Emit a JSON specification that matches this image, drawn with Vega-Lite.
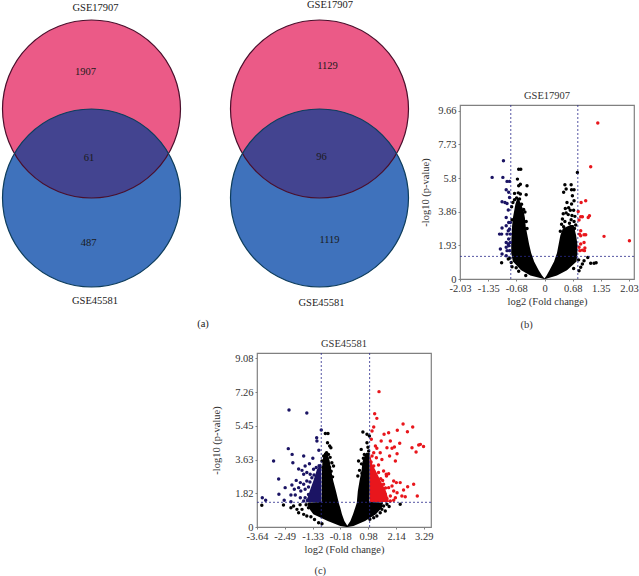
{
"$schema":"https://vega.github.io/schema/vega-lite/v6.json",
"padding":0,"autosize":{"type":"pad"},"background":"white",
"config":{"view":{"stroke":"#808080","strokeWidth":1.2},"font":"Liberation Serif","title":{"font":"Liberation Serif","fontSize":10.5,"fontWeight":"normal","color":"#333333","offset":3},
"axis":{"grid":false,"labelFont":"Liberation Serif","titleFont":"Liberation Serif","labelFontSize":10.5,"titleFontSize":10.5,"titleFontWeight":"normal","labelColor":"#333333","titleColor":"#333333","domain":false,"tickColor":"#808080","tickSize":2,"labelPadding":2,"labelFlush":false,"tickCount":12,"labelOverlap":false,"format":".2~f","labelExpr":"replace(datum.label,'−','-')","titlePadding":3}},
"datasets":{
"circles":[{"x":90.5,"y":109,"set":"GSE17907"},{"x":318.5,"y":109,"set":"GSE17907"},{"x":90.5,"y":198,"set":"GSE45581"},{"x":318.5,"y":198,"set":"GSE45581"}],
"lens":[
{"d":"a","x":13.4,"u":153.5,"l":153.5},{"d":"a","x":14.5,"u":151.7,"l":155.3},{"d":"a","x":16.5,"u":148.6,"l":158.4},{"d":"a","x":20.5,"u":143,"l":164},{"d":"a","x":25.5,"u":137.2,"l":169.8},{"d":"a","x":30.5,"u":132.3,"l":174.7},{"d":"a","x":40.5,"u":124.4,"l":182.6},{"d":"a","x":50.5,"u":118.5,"l":188.5},{"d":"a","x":60.5,"u":114.2,"l":192.8},{"d":"a","x":70.5,"u":111.3,"l":195.7},{"d":"a","x":80.5,"u":109.6,"l":197.4},{"d":"a","x":90.5,"u":109,"l":198},{"d":"a","x":100.5,"u":109.6,"l":197.4},{"d":"a","x":110.5,"u":111.3,"l":195.7},{"d":"a","x":120.5,"u":114.2,"l":192.8},{"d":"a","x":130.5,"u":118.5,"l":188.5},{"d":"a","x":140.5,"u":124.4,"l":182.6},{"d":"a","x":150.5,"u":132.3,"l":174.7},{"d":"a","x":155.5,"u":137.2,"l":169.8},{"d":"a","x":160.5,"u":143,"l":164},{"d":"a","x":164.5,"u":148.6,"l":158.4},{"d":"a","x":166.5,"u":151.7,"l":155.3},{"d":"a","x":167.6,"u":153.5,"l":153.5},
{"d":"b","x":241.4,"u":153.5,"l":153.5},{"d":"b","x":242.5,"u":151.7,"l":155.3},{"d":"b","x":244.5,"u":148.6,"l":158.4},{"d":"b","x":248.5,"u":143,"l":164},{"d":"b","x":253.5,"u":137.2,"l":169.8},{"d":"b","x":258.5,"u":132.3,"l":174.7},{"d":"b","x":268.5,"u":124.4,"l":182.6},{"d":"b","x":278.5,"u":118.5,"l":188.5},{"d":"b","x":288.5,"u":114.2,"l":192.8},{"d":"b","x":298.5,"u":111.3,"l":195.7},{"d":"b","x":308.5,"u":109.6,"l":197.4},{"d":"b","x":318.5,"u":109,"l":198},{"d":"b","x":328.5,"u":109.6,"l":197.4},{"d":"b","x":338.5,"u":111.3,"l":195.7},{"d":"b","x":348.5,"u":114.2,"l":192.8},{"d":"b","x":358.5,"u":118.5,"l":188.5},{"d":"b","x":368.5,"u":124.4,"l":182.6},{"d":"b","x":378.5,"u":132.3,"l":174.7},{"d":"b","x":383.5,"u":137.2,"l":169.8},{"d":"b","x":388.5,"u":143,"l":164},{"d":"b","x":392.5,"u":148.6,"l":158.4},{"d":"b","x":394.5,"u":151.7,"l":155.3},{"d":"b","x":395.6,"u":153.5,"l":153.5}],
"vennText":[{"x":94.5,"y":7.5,"t":"GSE17907"},{"x":329,"y":4.5,"t":"GSE17907"},{"x":94,"y":300,"t":"GSE45581"},{"x":320.5,"y":302,"t":"GSE45581"},{"x":84.5,"y":71.5,"t":"1907"},{"x":88,"y":157.5,"t":"61"},{"x":87.5,"y":242,"t":"487"},{"x":326.5,"y":65.5,"t":"1129"},{"x":320.5,"y":156.5,"t":"96"},{"x":328.5,"y":239,"t":"1119"},{"x":202,"y":323.5,"t":"(a)"}],
"bCore":[
{"p":"L","g":"ns","y":0,"x":-0.01,"x2":0.01},{"p":"L","g":"ns","y":0.2,"x":-0.34,"x2":-0.06},{"p":"L","g":"ns","y":0.5,"x":-0.56,"x2":-0.14},{"p":"L","g":"ns","y":1,"x":-0.76,"x2":-0.25},{"p":"L","g":"ns","y":1.5,"x":-0.8,"x2":-0.32},{"p":"L","g":"ns","y":2,"x":-0.8,"x2":-0.37},{"p":"L","g":"ns","y":2.5,"x":-0.79,"x2":-0.41},{"p":"L","g":"ns","y":3,"x":-0.78,"x2":-0.45},{"p":"L","g":"ns","y":3.5,"x":-0.76,"x2":-0.47},{"p":"L","g":"ns","y":3.9,"x":-0.73,"x2":-0.5},{"p":"L","g":"ns","y":4.3,"x":-0.7,"x2":-0.56},{"p":"L","g":"ns","y":4.6,"x":-0.66,"x2":-0.62},
{"p":"R","g":"ns","y":0,"x":-0.01,"x2":0.02},{"p":"R","g":"ns","y":0.2,"x":0.05,"x2":0.3},{"p":"R","g":"ns","y":0.5,"x":0.12,"x2":0.54},{"p":"R","g":"ns","y":1,"x":0.23,"x2":0.77},{"p":"R","g":"ns","y":1.5,"x":0.3,"x2":0.79},{"p":"R","g":"ns","y":2,"x":0.34,"x2":0.79},{"p":"R","g":"ns","y":2.5,"x":0.38,"x2":0.76},{"p":"R","g":"ns","y":2.9,"x":0.44,"x2":0.72},{"p":"R","g":"ns","y":3.1,"x":0.62,"x2":0.7}],
"bPts":[
{"g":"down","x":-0.986,"y":6.79},{"g":"down","x":-1.258,"y":5.84},{"g":"down","x":-1,"y":5.84},{"g":"down","x":-0.9,"y":5.61},{"g":"down","x":-0.84,"y":5.61},{"g":"down","x":-0.92,"y":5.13},{"g":"down","x":-0.86,"y":4.98},{"g":"down","x":-1.02,"y":4.44},{"g":"down","x":-0.95,"y":4.4},{"g":"down","x":-0.9,"y":4.34},{"g":"down","x":-0.84,"y":4.69},{"g":"down","x":-0.87,"y":3.96},{"g":"down","x":-0.92,"y":3.54},{"g":"down","x":-0.86,"y":3.25},{"g":"down","x":-0.82,"y":3.25},{"g":"down","x":-1.02,"y":2.93},{"g":"down","x":-1.08,"y":2.58},{"g":"down","x":-1.03,"y":2.58},{"g":"down","x":-0.92,"y":3.06},{"g":"down","x":-0.87,"y":2.77},{"g":"down","x":-0.84,"y":2.87},{"g":"down","x":-0.9,"y":2.58},{"g":"down","x":-0.82,"y":2.58},{"g":"down","x":-0.86,"y":2.3},{"g":"down","x":-0.92,"y":2.1},{"g":"down","x":-0.87,"y":2.01},{"g":"down","x":-0.82,"y":2.1},{"g":"down","x":-0.92,"y":1.82},{"g":"down","x":-0.86,"y":1.91},{"g":"down","x":-1.06,"y":1.72},{"g":"down","x":-1.02,"y":1.44},{"g":"down","x":-0.9,"y":1.63},{"g":"down","x":-0.84,"y":1.63},{"g":"down","x":-0.92,"y":1.34},
{"g":"up","x":1.28,"y":8.96},{"g":"up","x":1.11,"y":6.45},{"g":"up","x":0.99,"y":4.5},{"g":"up","x":0.88,"y":4.4},{"g":"up","x":0.81,"y":3.88},{"g":"up","x":1.08,"y":3.64},{"g":"up","x":1.05,"y":3.54},{"g":"up","x":0.87,"y":3.58},{"g":"up","x":0.91,"y":3.58},{"g":"up","x":0.83,"y":3.39},{"g":"up","x":0.87,"y":2.77},{"g":"up","x":0.84,"y":2.58},{"g":"up","x":0.95,"y":2.54},{"g":"up","x":0.99,"y":2.54},{"g":"up","x":0.87,"y":2.49},{"g":"up","x":1.43,"y":2.45},{"g":"up","x":2.04,"y":2.2},{"g":"up","x":0.95,"y":2.1},{"g":"up","x":0.87,"y":2.01},{"g":"up","x":0.97,"y":1.78},{"g":"up","x":0.91,"y":1.66},{"g":"up","x":0.85,"y":1.63},{"g":"up","x":0.96,"y":1.63},{"g":"up","x":0.83,"y":1.82},
{"g":"ns","x":-0.62,"y":6.31},{"g":"ns","x":-0.57,"y":6.31},{"g":"ns","x":0.79,"y":6.12},{"g":"ns","x":-0.65,"y":5.74},{"g":"ns","x":-0.58,"y":5.45},{"g":"ns","x":-0.62,"y":5.36},{"g":"ns","x":-0.42,"y":5.36},{"g":"ns","x":-0.44,"y":4.84},{"g":"ns","x":-0.72,"y":4.92},{"g":"ns","x":-0.58,"y":4.88},{"g":"ns","x":-0.76,"y":4.4},{"g":"ns","x":-0.72,"y":4.55},{"g":"ns","x":-0.67,"y":4.65},{"g":"ns","x":-0.6,"y":4.6},{"g":"ns","x":-0.55,"y":4.3},{"g":"ns","x":-0.5,"y":4.0},{"g":"ns","x":-0.47,"y":3.85},{"g":"ns","x":-0.78,"y":3.4},{"g":"ns","x":-0.44,"y":3.3},{"g":"ns","x":-0.42,"y":2.9},{"g":"ns","x":-0.79,"y":4.15},{"g":"ns","x":-0.63,"y":4.95},
{"g":"ns","x":0.49,"y":5.42},{"g":"ns","x":0.64,"y":5.42},{"g":"ns","x":0.52,"y":5.17},{"g":"ns","x":0.65,"y":5.13},{"g":"ns","x":0.71,"y":5.13},{"g":"ns","x":0.67,"y":4.78},{"g":"ns","x":0.71,"y":4.5},{"g":"ns","x":0.46,"y":4.98},{"g":"ns","x":0.54,"y":4.4},{"g":"ns","x":0.65,"y":4.31},{"g":"ns","x":0.5,"y":4.05},{"g":"ns","x":0.58,"y":4.1},{"g":"ns","x":0.62,"y":3.95},{"g":"ns","x":0.7,"y":3.95},{"g":"ns","x":0.45,"y":3.75},{"g":"ns","x":0.52,"y":3.8},{"g":"ns","x":0.57,"y":3.7},{"g":"ns","x":0.66,"y":3.65},{"g":"ns","x":0.73,"y":3.6},{"g":"ns","x":0.43,"y":3.45},{"g":"ns","x":0.64,"y":3.4},{"g":"ns","x":0.71,"y":3.3},{"g":"ns","x":0.75,"y":3.1},{"g":"ns","x":0.41,"y":3.15},{"g":"ns","x":0.46,"y":3.0},{"g":"ns","x":0.72,"y":2.9},{"g":"ns","x":0.38,"y":2.75},{"g":"ns","x":0.49,"y":3.3},{"g":"ns","x":0.6,"y":3.2},
{"g":"ns","x":-1.03,"y":0.94},{"g":"ns","x":-0.87,"y":1.15},{"g":"ns","x":-0.83,"y":1.2},{"g":"ns","x":-0.8,"y":0.95},{"g":"ns","x":-0.78,"y":0.7},{"g":"ns","x":0.91,"y":0.86},{"g":"ns","x":0.87,"y":0.67},{"g":"ns","x":1.04,"y":1.24},{"g":"ns","x":1.11,"y":0.9},{"g":"ns","x":1.19,"y":0.9},{"g":"ns","x":1.24,"y":0.94},{"g":"ns","x":0.95,"y":1.05},{"g":"ns","x":0.83,"y":0.48},{"g":"ns","x":0.82,"y":1.1},{"g":"ns","x":0.7,"y":0.6},{"g":"ns","x":-0.62,"y":0.45},{"g":"ns","x":-0.68,"y":0.65},{"g":"ns","x":-0.45,"y":0.2}],
"bRuleX":[{"v":-0.81},{"v":0.8}],"bRuleY":[{"v":1.3}],
"cCore":[
{"p":"L","g":"ns","y":0,"x":0.08,"x2":0.12},{"p":"L","g":"ns","y":0.05,"x":-0.18,"x2":0.12},{"p":"L","g":"ns","y":0.32,"x":-0.7,"x2":-0.01},{"p":"L","g":"ns","y":0.68,"x":-1.3,"x2":-0.11},{"p":"L","g":"ns","y":1.04,"x":-1.5,"x2":-0.18},{"p":"L","g":"ns","y":1.32,"x":-1.55,"x2":-0.25},{"p":"L","g":"ns","y":1.34,"x":-0.96,"x2":-0.25},{"p":"L","g":"ns","y":1.94,"x":-0.95,"x2":-0.36},{"p":"L","g":"ns","y":2.48,"x":-0.95,"x2":-0.47},{"p":"L","g":"ns","y":3.02,"x":-0.94,"x2":-0.55},{"p":"L","g":"ns","y":3.55,"x":-0.92,"x2":-0.62},{"p":"L","g":"ns","y":4,"x":-0.85,"x2":-0.72},
{"p":"R","g":"ns","y":0,"x":0.08,"x2":0.12},{"p":"R","g":"ns","y":0.05,"x":0.1,"x2":0.37},{"p":"R","g":"ns","y":0.32,"x":0.24,"x2":0.85},{"p":"R","g":"ns","y":0.68,"x":0.35,"x2":1.3},{"p":"R","g":"ns","y":1.04,"x":0.44,"x2":1.55},{"p":"R","g":"ns","y":1.32,"x":0.51,"x2":1.6},{"p":"R","g":"ns","y":1.34,"x":0.51,"x2":1.03},{"p":"R","g":"ns","y":1.94,"x":0.55,"x2":1.04},{"p":"R","g":"ns","y":2.48,"x":0.62,"x2":1.04},{"p":"R","g":"ns","y":3.02,"x":0.7,"x2":1.04},{"p":"R","g":"ns","y":3.55,"x":0.75,"x2":1.04},{"p":"R","g":"ns","y":4,"x":0.9,"x2":1.04},
{"p":"U","g":"up","y":1.34,"x":1.05,"x2":1.85},{"p":"U","g":"up","y":1.94,"x":1.05,"x2":1.72},{"p":"U","g":"up","y":2.48,"x":1.05,"x2":1.5},{"p":"U","g":"up","y":3.02,"x":1.05,"x2":1.3},{"p":"U","g":"up","y":3.38,"x":1.05,"x2":1.15},{"p":"U","g":"up","y":3.8,"x":1.05,"x2":1.08},
{"p":"D","g":"down","y":1.34,"x":-1.6,"x2":-0.97},{"p":"D","g":"down","y":1.94,"x":-1.45,"x2":-0.97},{"p":"D","g":"down","y":2.48,"x":-1.3,"x2":-0.97},{"p":"D","g":"down","y":3.1,"x":-1.15,"x2":-0.97},{"p":"D","g":"down","y":3.4,"x":-1,"x2":-0.97}],
"cPts":[
{"g":"down","x":-2.31,"y":6.3},{"g":"down","x":-1.57,"y":6.14},{"g":"down","x":-0.97,"y":5.22},{"g":"down","x":-1.16,"y":4.81},{"g":"down","x":-1.15,"y":4.63},{"g":"down","x":-2.34,"y":4.22},{"g":"down","x":-1.07,"y":4.13},{"g":"down","x":-2.18,"y":3.91},{"g":"down","x":-2.95,"y":3.55},{"g":"down","x":-1.7,"y":3.82},{"g":"down","x":-2.15,"y":3.46},{"g":"down","x":-1.32,"y":3.7},{"g":"down","x":-1.46,"y":3.41},{"g":"down","x":-1.64,"y":3.29},{"g":"down","x":-1.91,"y":3.12},{"g":"down","x":-1.77,"y":3.05},{"g":"down","x":-1.57,"y":2.93},{"g":"down","x":-2.74,"y":2.59},{"g":"down","x":-1.7,"y":2.84},{"g":"down","x":-1.43,"y":2.84},{"g":"down","x":-2.01,"y":2.51},{"g":"down","x":-1.84,"y":2.39},{"g":"down","x":-1.57,"y":2.48},{"g":"down","x":-1.29,"y":3.11},{"g":"down","x":-2.47,"y":2.12},{"g":"down","x":-2.19,"y":2.26},{"g":"down","x":-2.09,"y":2.03},{"g":"down","x":-1.91,"y":2.12},{"g":"down","x":-1.7,"y":2.3},{"g":"down","x":-2.73,"y":1.76},{"g":"down","x":-2.23,"y":1.72},{"g":"down","x":-2.05,"y":1.72},{"g":"down","x":-1.82,"y":1.94},{"g":"down","x":-1.64,"y":2.03},{"g":"down","x":-1.5,"y":2.15},{"g":"down","x":-2.51,"y":1.44},{"g":"down","x":-2.23,"y":1.36},{"g":"down","x":-3.42,"y":1.58},{"g":"down","x":-3.28,"y":1.44},{"g":"down","x":-1.84,"y":1.58},{"g":"down","x":-1.64,"y":1.58},{"g":"down","x":-1.7,"y":1.4},{"g":"down","x":-1.54,"y":1.44},{"g":"down","x":-1.5,"y":1.75},{"g":"down","x":-1.44,"y":2.42},{"g":"down","x":-1.36,"y":2.65},{"g":"down","x":-1.27,"y":2.8},{"g":"down","x":-1.18,"y":3.2},{"g":"down","x":-1.06,"y":3.3},
{"g":"up","x":1.43,"y":7.29},{"g":"up","x":1.25,"y":6.1},{"g":"up","x":1.34,"y":5.85},{"g":"up","x":1.21,"y":5.39},{"g":"up","x":1.14,"y":5.17},{"g":"up","x":2.43,"y":5.55},{"g":"up","x":2.83,"y":5.39},{"g":"up","x":2.61,"y":5.13},{"g":"up","x":2.19,"y":5.21},{"g":"up","x":1.83,"y":5.08},{"g":"up","x":1.64,"y":4.99},{"g":"up","x":1.11,"y":4.72},{"g":"up","x":1.52,"y":4.63},{"g":"up","x":1.9,"y":4.63},{"g":"up","x":2.29,"y":4.51},{"g":"up","x":3.08,"y":4.42},{"g":"up","x":3.15,"y":4.45},{"g":"up","x":3.28,"y":4.34},{"g":"up","x":2.8,"y":4.27},{"g":"up","x":2.97,"y":4.04},{"g":"up","x":1.28,"y":4.36},{"g":"up","x":1.34,"y":4.24},{"g":"up","x":1.21,"y":4},{"g":"up","x":1.76,"y":4.27},{"g":"up","x":1.97,"y":4.24},{"g":"up","x":2.07,"y":4.31},{"g":"up","x":1.48,"y":4},{"g":"up","x":1.87,"y":3.82},{"g":"up","x":2.18,"y":3.95},{"g":"up","x":1.55,"y":3.64},{"g":"up","x":1.32,"y":3.73},{"g":"up","x":1.14,"y":3.82},{"g":"up","x":2.11,"y":3.55},{"g":"up","x":1.21,"y":3.29},{"g":"up","x":1.41,"y":3.34},{"g":"up","x":1.73,"y":2.84},{"g":"up","x":1.83,"y":2.87},{"g":"up","x":1.41,"y":2.93},{"g":"up","x":1.62,"y":3.02},{"g":"up","x":1.1,"y":3.5},{"g":"up","x":1.16,"y":3.1},{"g":"up","x":2.04,"y":2.48},{"g":"up","x":2.15,"y":2.39},{"g":"up","x":2.31,"y":2.39},{"g":"up","x":2.87,"y":2.3},{"g":"up","x":2.62,"y":2.17},{"g":"up","x":2.45,"y":1.99},{"g":"up","x":1.97,"y":2.21},{"g":"up","x":1.83,"y":2.12},{"g":"up","x":2.04,"y":1.94},{"g":"up","x":2.18,"y":1.85},{"g":"up","x":1.69,"y":1.76},{"g":"up","x":1.9,"y":1.67},{"g":"up","x":2.11,"y":1.58},{"g":"up","x":2.38,"y":1.67},{"g":"up","x":2.52,"y":1.63},{"g":"up","x":3.02,"y":1.67},{"g":"up","x":1.9,"y":1.4},{"g":"up","x":2.04,"y":1.44},{"g":"up","x":1.76,"y":1.54},{"g":"up","x":1.62,"y":2.3},{"g":"up","x":1.7,"y":2.1},{"g":"up","x":1.5,"y":2.6},{"g":"up","x":1.58,"y":2.5},{"g":"up","x":1.68,"y":1.45},{"g":"up","x":1.74,"y":2.75},{"g":"up","x":1.3,"y":2.75},
{"g":"ns","x":-3.44,"y":1.17},{"g":"ns","x":-2.54,"y":1.18},{"g":"ns","x":-2.23,"y":1.04},{"g":"ns","x":-1.98,"y":0.95},{"g":"ns","x":-1.91,"y":0.77},{"g":"ns","x":-1.7,"y":0.68},{"g":"ns","x":-1.57,"y":0.59},{"g":"ns","x":-2.12,"y":1.13},{"g":"ns","x":-1.77,"y":0.95},{"g":"ns","x":-1.5,"y":1.04},{"g":"ns","x":-1.08,"y":0.23},{"g":"ns","x":-0.94,"y":0.18},{"g":"ns","x":-1.4,"y":0.55},{"g":"ns","x":-1.25,"y":0.4},{"g":"ns","x":-1.6,"y":1.2},{"g":"ns","x":-1.85,"y":1.2},
{"g":"ns","x":-0.8,"y":5.03},{"g":"ns","x":-0.69,"y":5.03},{"g":"ns","x":-0.71,"y":4.54},{"g":"ns","x":-0.62,"y":4.36},{"g":"ns","x":-0.57,"y":4.27},{"g":"ns","x":-0.87,"y":3.82},{"g":"ns","x":-0.67,"y":3.91},{"g":"ns","x":-0.53,"y":3.46},{"g":"ns","x":-0.46,"y":3.29},{"g":"ns","x":-0.94,"y":3.55},{"g":"ns","x":-0.75,"y":4.0},{"g":"ns","x":-0.8,"y":3.5},{"g":"ns","x":-0.62,"y":3.2},{"g":"ns","x":-0.56,"y":3.0},{"g":"ns","x":-0.6,"y":3.75},{"g":"ns","x":-0.5,"y":2.7},{"g":"ns","x":-0.9,"y":3.2},{"g":"ns","x":-0.72,"y":3.6},{"g":"ns","x":-0.67,"y":3.3},
{"g":"ns","x":0.76,"y":5.12},{"g":"ns","x":0.93,"y":4.99},{"g":"ns","x":1.03,"y":4.9},{"g":"ns","x":0.69,"y":4.18},{"g":"ns","x":0.93,"y":4.54},{"g":"ns","x":1,"y":4.09},{"g":"ns","x":0.82,"y":3.91},{"g":"ns","x":0.58,"y":3.55},{"g":"ns","x":0.78,"y":3.7},{"g":"ns","x":0.88,"y":3.85},{"g":"ns","x":0.7,"y":3.4},{"g":"ns","x":0.8,"y":3.3},{"g":"ns","x":0.62,"y":3.05},{"g":"ns","x":0.55,"y":2.75},{"g":"ns","x":0.97,"y":4.3},{"g":"ns","x":0.72,"y":2.9},
{"g":"ns","x":2.31,"y":1.22},{"g":"ns","x":1.69,"y":0.86},{"g":"ns","x":1.62,"y":1.13},{"g":"ns","x":1.76,"y":1.22},{"g":"ns","x":1.48,"y":0.77},{"g":"ns","x":1.34,"y":0.59},{"g":"ns","x":1.55,"y":0.95},{"g":"ns","x":1.21,"y":0.5},{"g":"ns","x":1.85,"y":1.1},{"g":"ns","x":1.05,"y":0.42}],
"cRuleX":[{"v":-0.97},{"v":1.04}],"cRuleY":[{"v":1.33}]
},
"resolve":{"scale":{"color":"independent","stroke":"independent"}},
"vconcat":[
{"resolve":{"scale":{"color":"independent","stroke":"independent"}},"hconcat":[
{"width":415,"height":334,"view":{"stroke":null},
"layer":[
{"data":{"name":"circles"},"mark":{"type":"point","filled":true,"opacity":1,"size":31684,"stroke":null},"encoding":{"x":{"field":"x","type":"quantitative","scale":{"domain":[0,415],"nice":false},"axis":null},"y":{"field":"y","type":"quantitative","scale":{"domain":[334,0],"nice":false},"axis":null},"color":{"field":"set","type":"nominal","scale":{"domain":["GSE17907","GSE45581"],"range":["#EB5A87","#3F72BC"]},"legend":null},"order":{"field":"y"}}},
{"data":{"name":"lens"},"mark":{"type":"area","color":"#434490"},"encoding":{"x":{"field":"x","type":"quantitative"},"y":{"field":"u","type":"quantitative"},"y2":{"field":"l"},"detail":{"field":"d"}}},
{"data":{"name":"circles"},"mark":{"type":"point","filled":false,"opacity":1,"size":31684,"strokeWidth":1.2},"encoding":{"x":{"field":"x","type":"quantitative"},"y":{"field":"y","type":"quantitative"},"stroke":{"field":"set","type":"nominal","scale":{"domain":["GSE17907","GSE45581"],"range":["#4A0F2C","#0E3D5C"]},"legend":null}}},
{"data":{"name":"vennText"},"mark":{"type":"text","font":"Liberation Serif","fontSize":10.5,"color":"#1A1A1A","baseline":"alphabetic","dy":3.5},"encoding":{"x":{"field":"x","type":"quantitative"},"y":{"field":"y","type":"quantitative"},"text":{"field":"t"}}}
]},
{"resolve":{"scale":{"color":"independent"}},"vconcat":[
{"width":10,"height":90,"view":{"stroke":null},"data":{"values":[{"a":0}]},"mark":{"type":"point","opacity":0},"encoding":{}},
{"width":174,"height":174,"title":"GSE17907",
"layer":[
{"data":{"name":"bCore"},"mark":{"type":"area","orient":"horizontal"},"encoding":{"y":{"field":"y","type":"quantitative","scale":{"domain":[0,10],"nice":false},"axis":{"values":[0,1.93,3.86,5.8,7.73,9.66],"title":"-log10 (p-value)","titlePadding":7}},"x":{"field":"x","type":"quantitative","scale":{"domain":[-2.03,2.15],"nice":false},"axis":{"values":[-2.03,-1.35,-0.68,0,0.68,1.35,2.03],"title":"log2 (Fold change)"}},"x2":{"field":"x2"},"detail":{"field":"p"},"color":{"field":"g","type":"nominal","scale":{"domain":["ns","up","down"],"range":["#000000","#E8161C","#1B1464"]},"legend":null}}},
{"data":{"name":"bPts"},"mark":{"type":"circle","opacity":1,"size":12},"encoding":{"x":{"field":"x","type":"quantitative"},"y":{"field":"y","type":"quantitative"},"color":{"field":"g","type":"nominal","legend":null}}},
{"data":{"name":"bRuleX"},"mark":{"type":"rule","color":"#2A2A8C","strokeDash":[2,2],"strokeWidth":0.8},"encoding":{"x":{"field":"v","type":"quantitative"}}},
{"data":{"name":"bRuleY"},"mark":{"type":"rule","color":"#2A2A8C","strokeDash":[2,2],"strokeWidth":0.8},"encoding":{"y":{"field":"v","type":"quantitative"}}},
{"data":{"values":[{"x":-0.43,"y":-2.64,"t":"(b)"}]},"mark":{"type":"text","font":"Liberation Serif","fontSize":10.5,"color":"#333333"},"encoding":{"x":{"field":"x","type":"quantitative"},"y":{"field":"y","type":"quantitative"},"text":{"field":"t"}}}
]}
],"spacing":0}
],"spacing":4},
{"hconcat":[
{"width":210,"height":10,"view":{"stroke":null},"data":{"values":[{"a":0}]},"mark":{"type":"point","opacity":0},"encoding":{}},
{"width":174,"height":174,"title":"GSE45581",
"layer":[
{"data":{"name":"cCore"},"mark":{"type":"area","orient":"horizontal"},"encoding":{"y":{"field":"y","type":"quantitative","scale":{"domain":[0,9.37],"nice":false},"axis":{"values":[0,1.82,3.63,5.45,7.26,9.08],"title":"-log10 (p-value)","titlePadding":13}},"x":{"field":"x","type":"quantitative","scale":{"domain":[-3.64,3.59],"nice":false},"axis":{"values":[-3.64,-2.49,-1.33,-0.18,0.98,2.14,3.29],"title":"log2 (Fold change)"}},"x2":{"field":"x2"},"detail":{"field":"p"},"color":{"field":"g","type":"nominal","scale":{"domain":["ns","up","down"],"range":["#000000","#E8161C","#1B1464"]},"legend":null}}},
{"data":{"name":"cPts"},"mark":{"type":"circle","opacity":1,"size":12},"encoding":{"x":{"field":"x","type":"quantitative"},"y":{"field":"y","type":"quantitative"},"color":{"field":"g","type":"nominal","legend":null}}},
{"data":{"name":"cRuleX"},"mark":{"type":"rule","color":"#2A2A8C","strokeDash":[2,2],"strokeWidth":0.8},"encoding":{"x":{"field":"v","type":"quantitative"}}},
{"data":{"name":"cRuleY"},"mark":{"type":"rule","color":"#2A2A8C","strokeDash":[2,2],"strokeWidth":0.8},"encoding":{"y":{"field":"v","type":"quantitative"}}},
{"data":{"values":[{"x":-1.01,"y":-2.37,"t":"(c)"}]},"mark":{"type":"text","font":"Liberation Serif","fontSize":10.5,"color":"#333333"},"encoding":{"x":{"field":"x","type":"quantitative"},"y":{"field":"y","type":"quantitative"},"text":{"field":"t"}}}
]}
],"spacing":0}
],"spacing":4
}
